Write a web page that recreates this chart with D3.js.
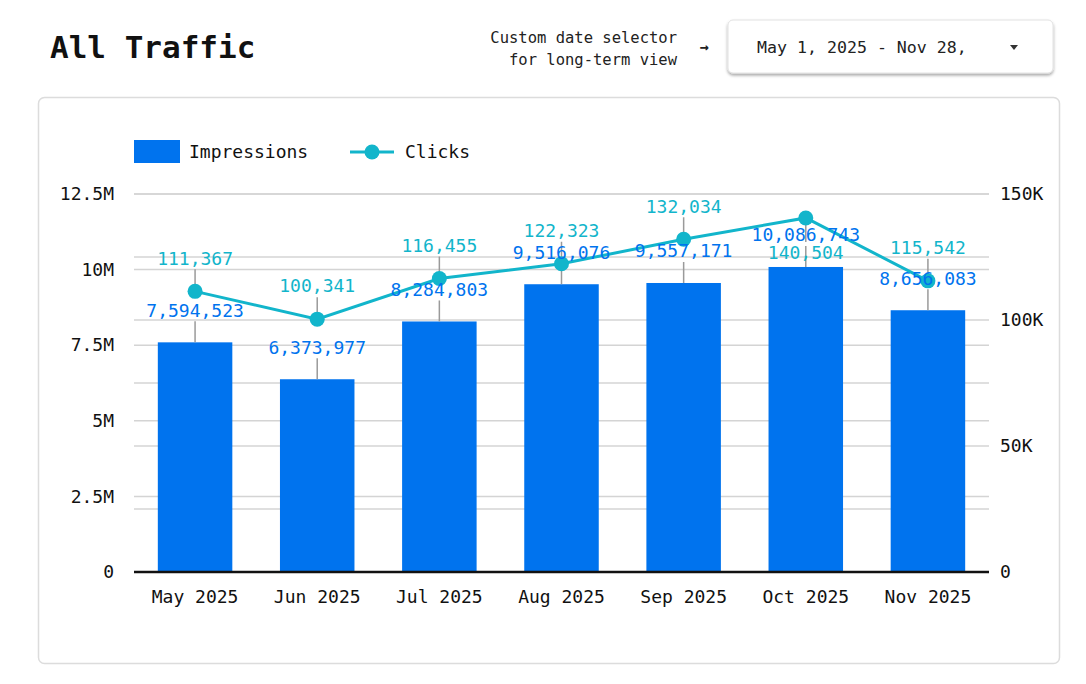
<!DOCTYPE html>
<html>
<head>
<meta charset="utf-8">
<script src="https://cdn.jsdelivr.net/npm/d3@7"></script>
<style>
  body { margin: 0; background: #fff; }
  svg text { font-family: 'DejaVu Sans Mono', monospace; }
</style>
</head>
<body>
<svg id="chart" width="1086" height="684"></svg>
<script>
// data
const months = ['May 2025', 'Jun 2025', 'Jul 2025', 'Aug 2025', 'Sep 2025', 'Oct 2025', 'Nov 2025'];
const impressions = [7594523, 6373977, 8284803, 9516076, 9557171, 10086743, 8656083];
const clicks = [111367, 100341, 116455, 122323, 132034, 140504, 115542];

const leftTicks = [0, 2500000, 5000000, 7500000, 10000000, 12500000];
const leftTickLabels = ['0', '2.5M', '5M', '7.5M', '10M', '12.5M'];
const rightGrid = [0, 25000, 50000, 75000, 100000, 125000, 150000];
const rightTicks = [0, 50000, 100000, 150000];
const rightTickLabels = ['0', '50K', '100K', '150K'];

const BLUE = '#0073ee';
const TEAL = '#12b5cb';
const GRID = '#d4d4d4';
const LEADER = '#9a9a9a';

document.addEventListener('DOMContentLoaded', () => {
  const svg = d3.select('#chart');
  drawHeader(svg);
  drawChart(svg);
});

// 1. Title + date selector
function drawHeader(svg) {
  svg.append('text')
    .attr('x', 50).attr('y', 58)
    .attr('font-size', 31).attr('font-weight', 'bold')
    .attr('fill', '#111')
    .text('All Traffic');

  const note = svg.append('text')
    .attr('text-anchor', 'end')
    .attr('font-size', 15.5)
    .attr('fill', '#222');
  note.append('tspan').attr('x', 677).attr('y', 43).text('Custom date selector');
  note.append('tspan').attr('x', 677).attr('y', 65).text('for long-term view');

  svg.append('text')
    .attr('x', 704).attr('y', 52)
    .attr('text-anchor', 'middle')
    .attr('font-size', 15).attr('font-weight', 'bold').attr('fill', '#222')
    .text('→');

  const defs = svg.append('defs');
  const f = defs.append('filter').attr('id', 'shadow')
    .attr('x', '-10%').attr('y', '-20%').attr('width', '120%').attr('height', '150%');
  f.append('feDropShadow')
    .attr('dx', 0).attr('dy', 2).attr('stdDeviation', 1.5)
    .attr('flood-color', '#000').attr('flood-opacity', 0.35);

  svg.append('rect')
    .attr('x', 728).attr('y', 20).attr('width', 325).attr('height', 53)
    .attr('rx', 5)
    .attr('fill', '#fff').attr('stroke', '#e2e2e2')
    .style('filter', 'url(#shadow)');

  svg.append('text')
    .attr('x', 757).attr('y', 53)
    .attr('font-size', 16.6).attr('fill', '#222')
    .text('May 1, 2025 - Nov 28,');

  svg.append('path')
    .attr('d', 'M1010,45 L1018,45 L1014,50 Z')
    .attr('fill', '#333');
}

// 2. Combo chart: bars + line, dual axis
function drawChart(svg) {
  svg.append('rect')
    .attr('x', 38.5).attr('y', 97.5).attr('width', 1021).attr('height', 566)
    .attr('rx', 6)
    .attr('fill', '#fff').attr('stroke', '#dcdcdc').attr('stroke-width', 1.5);

  const left = 134, right = 989, top = 194, bottom = 572;

  const x = d3.scaleBand().domain(months).range([left, right])
    .paddingInner(0.39).paddingOuter(0.195);
  const yL = d3.scaleLinear().domain([0, 12500000]).range([bottom, top]);
  const yR = d3.scaleLinear().domain([0, 150000]).range([bottom, top]);

  // gridlines from both axes
  const grid = svg.append('g').attr('stroke', GRID).attr('stroke-width', 1.5);
  grid.selectAll('line.gl').data(leftTicks).join('line')
    .attr('x1', left).attr('x2', right)
    .attr('y1', d => yL(d)).attr('y2', d => yL(d));
  grid.selectAll('line.gr').data(rightGrid).join('line')
    .attr('x1', left).attr('x2', right)
    .attr('y1', d => yR(d)).attr('y2', d => yR(d));

  // axes
  const axisL = svg.append('g')
    .attr('transform', `translate(${left - 20},0)`)
    .call(d3.axisLeft(yL).tickValues(leftTicks)
      .tickFormat((d, i) => leftTickLabels[i]).tickSize(0).tickPadding(0));
  const axisR = svg.append('g')
    .attr('transform', `translate(${right + 11},0)`)
    .call(d3.axisRight(yR).tickValues(rightTicks)
      .tickFormat((d, i) => rightTickLabels[i]).tickSize(0).tickPadding(0));
  const axisX = svg.append('g')
    .attr('transform', `translate(0,${bottom + 14})`)
    .call(d3.axisBottom(x).tickSize(0).tickPadding(0));

  [axisL, axisR, axisX].forEach(a => {
    a.select('.domain').remove();
    a.selectAll('text')
      .attr('font-family', "'DejaVu Sans Mono', monospace")
      .attr('font-size', 18).attr('fill', '#111');
  });
  axisX.selectAll('text').attr('dy', '0.95em');

  // bars
  svg.append('g').selectAll('rect').data(months).join('rect')
    .attr('x', d => x(d))
    .attr('width', x.bandwidth())
    .attr('y', (d, i) => yL(impressions[i]))
    .attr('height', (d, i) => bottom - yL(impressions[i]))
    .attr('fill', BLUE);

  // baseline
  svg.append('line')
    .attr('x1', left).attr('x2', right)
    .attr('y1', bottom).attr('y2', bottom)
    .attr('stroke', '#111').attr('stroke-width', 2.5);

  const cx = d => x(d) + x.bandwidth() / 2;

  // label placement: above the mark, flipped below if it would leave the plot
  const impLabelY = impressions.map(v => yL(v) - 32);
  const clickLabelY = clicks.map(v => {
    const up = yR(v) - 33;
    return up - 9 < top ? yR(v) + 35 : up;
  });

  // leader lines
  const leaders = svg.append('g').attr('stroke', LEADER).attr('stroke-width', 1.5);
  leaders.selectAll('line.li').data(months).join('line')
    .attr('x1', cx).attr('x2', cx)
    .attr('y1', (d, i) => yL(impressions[i]))
    .attr('y2', (d, i) => impLabelY[i] + 11);
  leaders.selectAll('line.lc').data(months).join('line')
    .attr('x1', cx).attr('x2', cx)
    .attr('y1', (d, i) => yR(clicks[i]))
    .attr('y2', (d, i) => clickLabelY[i] < yR(clicks[i]) ? clickLabelY[i] + 11 : clickLabelY[i] - 11);

  // clicks line
  const line = d3.line()
    .x(d => cx(d))
    .y((d, i) => yR(clicks[i]));
  svg.append('path')
    .datum(months)
    .attr('d', line)
    .attr('fill', 'none')
    .attr('stroke', TEAL).attr('stroke-width', 3);

  svg.append('g').selectAll('circle').data(months).join('circle')
    .attr('cx', cx)
    .attr('cy', (d, i) => yR(clicks[i]))
    .attr('r', 7.5)
    .attr('fill', TEAL);

  // value labels
  const fmt = d3.format(',');
  svg.append('g').selectAll('text').data(months).join('text')
    .attr('x', cx)
    .attr('y', (d, i) => impLabelY[i])
    .attr('dy', '0.35em')
    .attr('text-anchor', 'middle')
    .attr('font-size', 18).attr('fill', BLUE)
    .text((d, i) => fmt(impressions[i]));

  svg.append('g').selectAll('text').data(months).join('text')
    .attr('x', cx)
    .attr('y', (d, i) => clickLabelY[i])
    .attr('dy', '0.35em')
    .attr('text-anchor', 'middle')
    .attr('font-size', 18).attr('fill', TEAL)
    .text((d, i) => fmt(clicks[i]));

  // legend
  const legend = svg.append('g');
  legend.append('rect')
    .attr('x', 134).attr('y', 140).attr('width', 46).attr('height', 23)
    .attr('fill', BLUE);
  legend.append('text')
    .attr('x', 189).attr('y', 152).attr('dy', '0.35em')
    .attr('font-size', 18).attr('fill', '#111')
    .text('Impressions');
  legend.append('line')
    .attr('x1', 350).attr('x2', 394).attr('y1', 152).attr('y2', 152)
    .attr('stroke', TEAL).attr('stroke-width', 3);
  legend.append('circle')
    .attr('cx', 372).attr('cy', 152).attr('r', 7.5)
    .attr('fill', TEAL);
  legend.append('text')
    .attr('x', 405).attr('y', 152).attr('dy', '0.35em')
    .attr('font-size', 18).attr('fill', '#111')
    .text('Clicks');
}
</script>
</body>
</html>
